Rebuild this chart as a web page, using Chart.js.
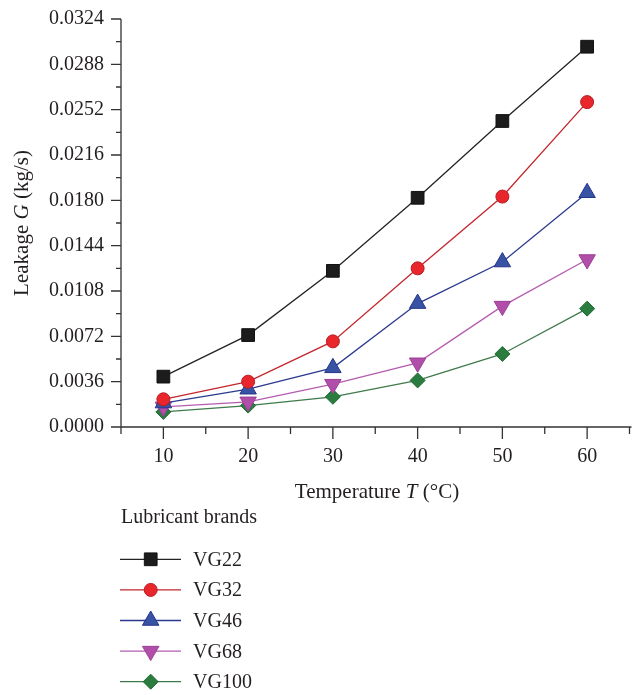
<!DOCTYPE html>
<html>
<head>
<meta charset="utf-8">
<script src="https://cdn.jsdelivr.net/npm/chart.js@4/dist/chart.umd.min.js"></script>
<style>
  html, body { margin: 0; padding: 0; background: #fff; overflow: hidden; }
  canvas { display: block; }
</style>
</head>
<body>
<canvas id="chart" width="640" height="695"></canvas>
<script>
// Temperature (°C) on the x axis
const temperatures = [10, 20, 30, 40, 50, 60];

// Leakage G (kg/s) for each lubricant grade
const seriesNames = ['VG22', 'VG32', 'VG46', 'VG68', 'VG100'];
const vg22  = [0.0040, 0.0073, 0.0124, 0.0182, 0.0243, 0.0302];
const vg32  = [0.0022, 0.0036, 0.0068, 0.0126, 0.0183, 0.0258];
const vg46  = [0.0019, 0.0030, 0.0047, 0.0098, 0.0131, 0.0186];
const vg68  = [0.0016, 0.0020, 0.0034, 0.0051, 0.0096, 0.0133];
const vg100 = [0.0012, 0.0017, 0.0024, 0.0037, 0.0058, 0.0094];

// Axis ticks
const xMajorTicks = [10, 20, 30, 40, 50, 60];
const xMinorTicks = [5, 15, 25, 35, 45, 55, 65];
const yMajorTicks = [0, 0.0036, 0.0072, 0.0108, 0.0144, 0.0180, 0.0216, 0.0252, 0.0288, 0.0324];
const yMinorTicks = [0.0018, 0.0054, 0.0090, 0.0126, 0.0162, 0.0198, 0.0234, 0.0270, 0.0306];

const legendTitle = 'Lubricant brands';

const FONT = '"Liberation Serif", "Times New Roman", serif';
const INK = '#231f20';
const AXIS = '#333333';

// Marker / line styling per series
const styles = [
  { line: '#232323', fill: '#1c1c1c', edge: '#111111', point: 'rect',     radius: 9,   rotation: 0 },
  { line: '#c4262d', fill: '#e8262b', edge: '#b51f25', point: 'circle',   radius: 6.5, rotation: 0 },
  { line: '#2b3a8f', fill: '#3852a4', edge: '#26358a', point: 'triangle', radius: 9.5, rotation: 0 },
  { line: '#b45cb0', fill: '#b04ea9', edge: '#9b3f95', point: 'triangle', radius: 9.5, rotation: 180 },
  { line: '#3e7b4b', fill: '#2a7d3e', edge: '#1f6a31', point: 'rectRot',  radius: 7.5, rotation: 0 }
];

const seriesValues = [vg22, vg32, vg46, vg68, vg100];

const datasets = seriesValues.map((vals, i) => ({
  label: seriesNames[i],
  data: temperatures.map((t, k) => ({ x: t, y: vals[k] })),
  borderColor: styles[i].line,
  borderWidth: 1.3,
  backgroundColor: styles[i].fill,
  pointBackgroundColor: styles[i].fill,
  pointBorderColor: styles[i].edge,
  pointBorderWidth: 1,
  pointStyle: styles[i].point,
  pointRadius: styles[i].radius,
  pointRotation: styles[i].rotation,
  tension: 0,
  fill: false,
  clip: false
}));

// Draws a line of text made of regular / italic pieces, starting at x
function drawPieces(ctx, pieces, x, y, size) {
  let cx = x;
  pieces.forEach(p => {
    ctx.font = (p.italic ? 'italic ' : '') + size + 'px ' + FONT;
    ctx.fillText(p.text, cx, y);
    cx += ctx.measureText(p.text).width;
  });
}
function measurePieces(ctx, pieces, size) {
  let w = 0;
  pieces.forEach(p => {
    ctx.font = (p.italic ? 'italic ' : '') + size + 'px ' + FONT;
    w += ctx.measureText(p.text).width;
  });
  return w;
}

const framePlugin = {
  id: 'frame',
  beforeDatasetsDraw(chart) {
    const { ctx, chartArea: a, scales: { x, y } } = chart;
    ctx.save();
    ctx.strokeStyle = AXIS;
    ctx.lineWidth = 1.3;
    ctx.beginPath();
    // axis lines
    ctx.moveTo(a.left, a.top);
    ctx.lineTo(a.left, a.bottom);
    ctx.lineTo(a.right + 2, a.bottom);
    // y ticks, pointing outward
    yMajorTicks.forEach(v => {
      const p = y.getPixelForValue(v);
      ctx.moveTo(a.left - 10, p); ctx.lineTo(a.left, p);
    });
    yMinorTicks.forEach(v => {
      const p = y.getPixelForValue(v);
      ctx.moveTo(a.left - 5, p); ctx.lineTo(a.left, p);
    });
    // x ticks, pointing outward
    xMajorTicks.forEach(v => {
      const p = x.getPixelForValue(v);
      ctx.moveTo(p, a.bottom); ctx.lineTo(p, a.bottom + 12);
    });
    xMinorTicks.forEach(v => {
      const p = x.getPixelForValue(v);
      ctx.moveTo(p, a.bottom); ctx.lineTo(p, a.bottom + 7);
    });
    ctx.stroke();
    ctx.restore();
  },
  afterDraw(chart) {
    const { ctx } = chart;
    ctx.save();
    ctx.fillStyle = INK;
    ctx.textBaseline = 'alphabetic';
    ctx.textAlign = 'left';

    // x axis title
    const xTitle = [{ text: 'Temperature ' }, { text: 'T', italic: true }, { text: ' (°C)' }];
    const xw = measurePieces(ctx, xTitle, 21);
    drawPieces(ctx, xTitle, 377 - xw / 2, 498, 21);

    // y axis title, rotated
    const yTitle = [{ text: 'Leakage ' }, { text: 'G', italic: true }, { text: ' (kg/s)' }];
    const yw = measurePieces(ctx, yTitle, 21);
    ctx.save();
    ctx.translate(28, 223);
    ctx.rotate(-Math.PI / 2);
    drawPieces(ctx, yTitle, -yw / 2, 0, 21);
    ctx.restore();

    // legend block below the plot
    ctx.font = '20px ' + FONT;
    ctx.fillText(legendTitle, 121, 523);
    chart.data.datasets.forEach((ds, i) => {
      const cy = 559.3 + i * 30.6;
      ctx.strokeStyle = ds.borderColor;
      ctx.lineWidth = 1.3;
      ctx.beginPath();
      ctx.moveTo(120, cy); ctx.lineTo(181, cy);
      ctx.stroke();
      ctx.fillStyle = ds.pointBackgroundColor;
      ctx.strokeStyle = ds.pointBorderColor;
      ctx.lineWidth = ds.pointBorderWidth;
      Chart.helpers.drawPoint(ctx, {
        pointStyle: ds.pointStyle,
        radius: ds.pointRadius,
        rotation: ds.pointRotation,
        borderWidth: ds.pointBorderWidth
      }, 150.7, cy);
      ctx.fillStyle = INK;
      ctx.font = '20px ' + FONT;
      ctx.fillText(ds.label, 193, cy + 6.5);
    });
    ctx.restore();
  }
};

new Chart(document.getElementById('chart'), {
  type: 'line',
  data: { datasets },
  plugins: [framePlugin],
  options: {
    responsive: false,
    animation: false,
    layout: { padding: { left: 0, top: 19, right: 1, bottom: 208 } },
    plugins: { legend: { display: false }, tooltip: { enabled: false } },
    scales: {
      x: {
        type: 'linear',
        min: 5,
        max: 65,
        grid: { display: false, drawTicks: false },
        border: { display: false },
        afterBuildTicks: s => { s.ticks = xMajorTicks.map(v => ({ value: v })); },
        afterFit: s => { s.height = 60; s.paddingLeft = 0; s.paddingRight = 0; },
        ticks: {
          autoSkip: false,
          maxRotation: 0,
          padding: 18,
          color: INK,
          font: { family: FONT, size: 20 },
          callback: v => String(v)
        }
      },
      y: {
        min: 0,
        max: 0.0324,
        grid: { display: false, drawTicks: false },
        border: { display: false },
        afterBuildTicks: s => { s.ticks = yMajorTicks.map(v => ({ value: v })); },
        afterFit: s => { s.width = 121; s.paddingTop = 0; s.paddingBottom = 0; },
        ticks: {
          autoSkip: false,
          padding: 17,
          color: INK,
          font: { family: FONT, size: 20 },
          callback: v => v.toFixed(4)
        }
      }
    }
  }
});
</script>
</body>
</html>
